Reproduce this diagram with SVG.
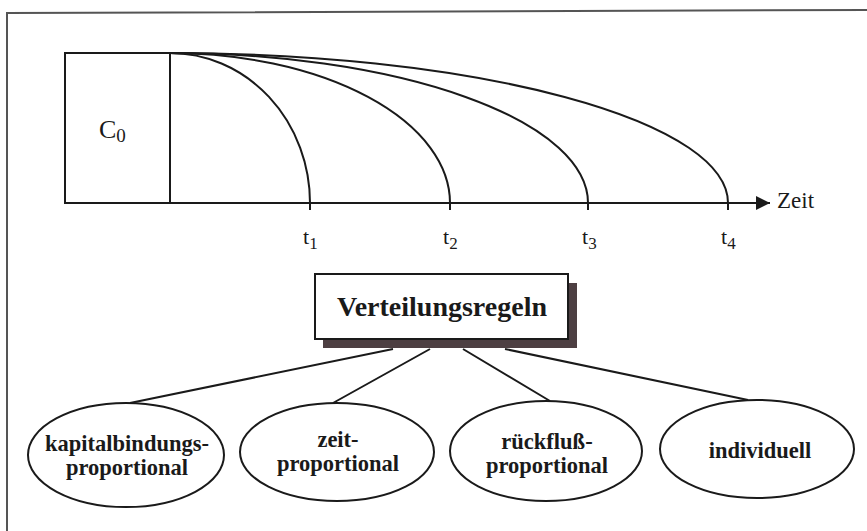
<svg xmlns="http://www.w3.org/2000/svg" width="867" height="531" viewBox="0 0 867 531">
<defs>
<style>
.ln{fill:none;stroke:#1a1a1a;stroke-width:2}
.sr{font-family:"Liberation Serif","Times New Roman",serif;fill:#1a1a1a}
.b{font-weight:bold;text-anchor:middle;font-size:22.5px}
.el{fill:#fff;stroke:#1a1a1a;stroke-width:2}
</style>
<marker id="ah" viewBox="0 0 10 10" refX="10" refY="5" markerWidth="24" markerHeight="14" markerUnits="userSpaceOnUse" orient="auto"><path d="M0,0 L10,5 L0,10 Z" fill="#1a1a1a"/></marker>
</defs>
<rect width="867" height="531" fill="#fff"/>
<path d="M7,531 L7,13 L867,10" fill="none" stroke="#555" stroke-width="2"/>
<g id="chart">
<rect x="65" y="53" width="105" height="150" class="ln"/>
<path d="M170,203 L770,203" class="ln" marker-end="url(#ah)"/>
<path d="M170,53 A140,150 0 0 1 310,203" class="ln"/>
<path d="M170,53 A280,150 0 0 1 450,203" class="ln"/>
<path d="M170,53 A418,150 0 0 1 588,203" class="ln"/>
<path d="M170,53 A558,150 0 0 1 728,203" class="ln"/>
<path d="M310,203 V210 M450,203 V210 M588,203 V210 M728,203 V210" class="ln"/>
<text x="99" y="138" class="sr" font-size="26">C<tspan font-size="19" dy="4">0</tspan></text>
<text x="777" y="208" class="sr" font-size="23">Zeit</text>
<text x="303" y="244" class="sr" font-size="22">t<tspan font-size="17" dy="5">1</tspan></text>
<text x="443" y="244" class="sr" font-size="22">t<tspan font-size="17" dy="5">2</tspan></text>
<text x="582" y="244" class="sr" font-size="22">t<tspan font-size="17" dy="5">3</tspan></text>
<text x="721" y="244" class="sr" font-size="22">t<tspan font-size="17" dy="5">4</tspan></text>
</g>
<g id="connectors">
<path d="M393,349 L130,403 M430,349 L333,403 M463,349 L550,401 M505,349 L748,400" class="ln"/>
</g>
<g id="verteilungsregeln">
<rect x="323" y="283" width="254" height="65" fill="#4d3f42"/>
<rect x="315" y="274" width="253" height="65" fill="#fff" stroke="#1a1a1a" stroke-width="2"/>
<text x="442" y="316" class="sr" font-weight="bold" font-size="28" text-anchor="middle">Verteilungsregeln</text>
</g>
<g id="kapital">
<ellipse cx="126" cy="455" rx="98" ry="52" class="el"/>
<text x="127" y="451" class="sr b">kapitalbindungs-</text>
<text x="127" y="475" class="sr b">proportional</text>
</g>
<g id="zeit">
<ellipse cx="337" cy="452" rx="97" ry="49" class="el"/>
<text x="338" y="447" class="sr b">zeit-</text>
<text x="338" y="471" class="sr b">proportional</text>
</g>
<g id="rueckfluss">
<ellipse cx="546" cy="451" rx="96" ry="50" class="el"/>
<text x="547" y="449" class="sr b">rückfluß-</text>
<text x="547" y="473" class="sr b">proportional</text>
</g>
<g id="individuell">
<ellipse cx="757" cy="449" rx="97" ry="49" class="el"/>
<text x="760" y="458" class="sr b">individuell</text>
</g>
</svg>
